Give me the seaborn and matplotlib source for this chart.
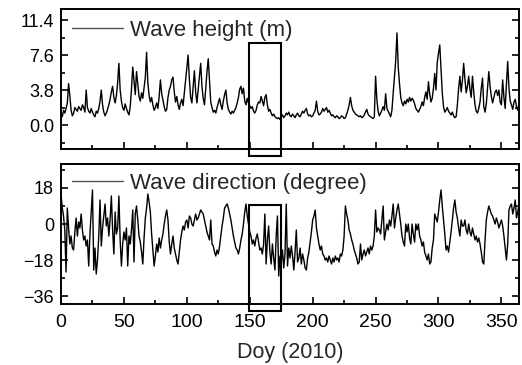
import numpy as np
import pandas as pd
import seaborn as sns
import matplotlib.pyplot as plt
from matplotlib.patches import Rectangle
from matplotlib.ticker import MultipleLocator, FormatStrFormatter

# daily wave height (m), day 0..365
height = [
    1.2, 0.9, 1.6, 1.3, 1.8, 2.4, 4.5, 3.2, 1.6, 1.0,
    1.3, 1.9, 1.7, 1.5, 2.0, 1.8, 1.6, 2.2, 1.9, 1.4,
    3.8, 1.9, 1.5, 1.3, 1.8, 1.4, 1.1, 0.9, 1.5, 1.3,
    1.8, 2.6, 3.8, 2.2, 1.4, 1.0, 1.3, 1.7, 2.2, 2.8,
    3.6, 4.2, 3.0, 2.4, 3.2, 4.6, 6.7, 3.8, 2.6, 1.9,
    1.6, 2.3, 1.8, 1.4, 1.1, 2.0, 3.9, 6.3, 4.8, 3.3,
    5.8, 4.4, 3.1, 2.6, 3.5, 2.9, 4.1, 5.2, 7.9, 4.6,
    3.2, 2.5, 3.0, 2.2, 1.6, 1.9, 2.4, 1.8, 3.1, 4.9,
    3.4, 2.7, 2.0, 1.5, 1.7, 3.0, 3.8, 4.2, 4.9, 5.2,
    3.6, 2.5, 3.1, 2.2, 1.7, 2.4, 2.8, 2.1, 3.5, 4.8,
    6.4, 7.6, 5.0, 3.0, 2.4, 4.1, 5.9, 3.6, 2.4, 3.8,
    5.3, 6.7, 4.2, 2.9, 2.2, 3.9, 5.8, 7.2, 4.9, 2.5,
    1.9, 1.4, 1.6, 1.3, 1.9, 2.4, 2.9, 2.2, 1.7, 2.6,
    3.3, 3.8, 2.4, 1.7, 1.4, 1.2, 1.5, 1.3, 1.6, 1.9,
    2.4, 3.0, 3.9, 4.2, 3.4, 4.0, 2.6, 2.2, 2.9, 2.4,
    2.1, 1.8, 2.0, 1.5, 1.3, 1.6, 2.2, 2.5, 2.4, 3.1,
    2.6, 2.1, 3.0, 3.3, 2.2, 1.5, 1.7, 1.3, 1.0, 1.2,
    0.9, 0.8, 0.7, 0.8, 0.6, 0.9, 1.1, 0.8, 1.0, 1.3,
    1.1, 1.4, 1.0, 0.9, 1.2, 1.0, 0.8, 1.1, 1.3, 1.0,
    0.9, 1.2, 1.5, 1.3, 1.6, 1.8, 1.2, 1.0, 1.1, 0.9,
    1.0, 1.3, 1.6, 2.6, 1.5, 1.1, 1.2, 1.4, 1.8, 1.5,
    1.7, 1.9, 1.4, 1.6, 1.3, 1.0, 1.1, 0.9, 0.8, 1.0,
    0.9, 0.7, 0.8, 1.0, 0.9, 0.7, 0.8, 1.2, 1.6, 2.2,
    3.0, 2.1, 1.6, 1.4, 1.2, 1.1, 1.0, 0.9, 1.0, 0.8,
    0.9, 1.1, 1.4, 1.7, 1.2, 1.0, 0.9, 0.8, 0.7, 0.9,
    5.3, 2.8, 1.5, 1.0, 1.3, 1.6, 2.0, 1.6, 3.4, 1.8,
    1.5, 1.2, 0.9, 1.6, 3.5, 5.2, 7.0, 10.0, 6.3, 4.5,
    3.0, 2.4, 2.1, 2.6, 2.3, 2.8, 2.5, 3.0, 2.6, 2.9,
    2.7, 2.3, 1.8, 1.6, 1.4, 1.7, 2.0, 2.5, 2.1, 3.0,
    3.6, 2.8, 4.7, 3.4, 2.5, 2.9, 4.0, 5.6, 3.8, 6.8,
    7.8, 8.7, 6.0, 3.5, 2.0, 1.4, 1.6, 1.9, 1.5, 1.3,
    1.1, 1.4, 1.0, 0.8, 0.9, 2.2, 4.0, 5.3, 3.6, 4.8,
    6.7, 5.0, 3.5, 4.2, 5.3, 3.9, 3.0, 5.3, 3.6, 2.2,
    1.5, 1.3, 1.8, 2.5, 4.0, 5.1, 2.0, 1.4, 2.3, 4.0,
    5.8, 4.2, 3.1, 2.4, 3.0, 3.6, 3.8, 3.2, 3.8, 2.5,
    2.2, 4.9, 3.0, 1.8, 4.5, 6.9, 4.0, 2.6, 2.2, 1.7,
    2.5, 2.8, 2.0, 1.6, 2.4, 2.8,
]

# daily wave direction (degree), day 0..365
direction = [
    15, 8, 4, -3, -24, 8, -2, -10, -6, -12,
    -13, -4, 3, -6, 1, -2, 5, -3, -8, -6,
    -11, -8, -21, -5, 6, 17, -23, -12, -25, -18,
    -6, 12, -11, -2, 4, 10, -1, 3, -6, 2,
    14, -3, -15, 6, -5, -2, 14, -8, -21, -10,
    -4, -8, -2, -21, -6, -10, -3, 7, -19, 5,
    9, 2, -6, -9, -14, -20, -7, 3, 8, 15,
    11, 6, -5, -13, -21, -16, -10, -14, -7, -12,
    -8, -5, 0, 4, 7, 2, -9, -15, -10, -6,
    -12, -15, -18, -20, -14, -8, -4, -1, -3, 1,
    2, -2, 4, 3, 0, -1, 2, 5, 2, 3,
    5, 7, 6, 5, 2, -1, -4, -6, -8, 2,
    -10, -11, -14, -16, -13, -15, -11, -6, -1, 3,
    8, 9, 10, 8, 5, 2, -2, -6, -9, -12,
    -13, -15, -12, -8, -5, 0, 6, 10, 4, 0,
    -4, -6, -10, -8, -11, -7, -5, -9, -13, -12,
    -15, -10, 5, -20, -8, -1, -14, -20, -10, -17,
    -23, -6, 4, -26, -16, -19, -13, -22, -15, 10,
    -21, -12, -17, -11, -16, -23, -14, -3, -19, -17,
    -12, -20, -15, -18, -22, -23, -17, -14, -9, -4,
    2, 4, 7, -2, -6, -10, -13, -11, -15, -16,
    -18, -17, -19, -16, -18, -20, -17, -19, -16, -18,
    -17, -19, -15, -16, -13, -6, 9, 5, 2, -3,
    -5, -8, -10, -13, -15, -17, -20, -19, -10, -18,
    -15, -13, -16, -14, -12, -15, -11, -13, -11, -6,
    7, -4, -2, -3, -5, 2, 9, -8, -4, 0,
    -3, 2, -1, 4, 10, -2, 3, 7, 10, 5,
    0, -6, -9, -11, 0, -4, 0, -7, -10, 0,
    -5, -9, 0, -3, 0, -6, -8, -11, -9, -14,
    -16, -18, -15, -20, -19, -12, -8, 5, 3, 1,
    6, 12, 17, 9, 2, -5, -13, -11, -14, -9,
    -4, 2, 8, 12, 6, 3, -2, -6, 2, -1,
    -1, 2, -3, -5, 0, -4, -6, -2, -5, -8,
    -6, -9, -7, -10, -14, -19, -20, -8, 2, 6,
    9, 7, 5, 4, 2, 0, 3, 1, -2, 0,
    2, -1, -6, -12, -18, -10, 7, 9, 10, 5,
    8, 12, 3, 6, 10, 14,
]

# highlighted window (doy)
window = (149, 175)

df_h = pd.DataFrame({"doy": np.arange(len(height)), "val": height})
df_d = pd.DataFrame({"doy": np.arange(len(direction)), "val": direction})

sns.set_style("ticks")
plt.rcParams["font.family"] = ["Liberation Sans", "DejaVu Sans"]

fig = plt.figure(figsize=(5.22, 3.65), dpi=100)
ax1 = fig.add_axes([0.1169, 0.5918, 0.8774, 0.3836])
ax2 = fig.add_axes([0.1169, 0.1671, 0.8774, 0.3836])

sns.lineplot(data=df_h, x="doy", y="val", ax=ax1, color="black", lw=1.0,
             label="Wave height (m)")
sns.lineplot(data=df_d, x="doy", y="val", ax=ax2, color="black", lw=1.0,
             label="Wave direction (degree)")

ax1.set_ylim(-2.6, 12.6)
ax1.yaxis.set_major_locator(MultipleLocator(3.8))
ax1.yaxis.set_minor_locator(MultipleLocator(1.9))
ax1.yaxis.set_major_formatter(FormatStrFormatter("%.1f"))
ax2.set_ylim(-40, 30)
ax2.yaxis.set_major_locator(MultipleLocator(18))
ax2.yaxis.set_minor_locator(MultipleLocator(9))

for ax, ly in ((ax1, 1.0), (ax2, 1.015)):
    ax.set_xlim(0, 364)
    ax.xaxis.set_major_locator(MultipleLocator(50))
    ax.xaxis.set_minor_locator(MultipleLocator(25))
    ax.set_xlabel("")
    ax.set_ylabel("")
    ax.tick_params(which="both", direction="in", left=True, right=True,
                   bottom=True, top=False, width=1.2, colors="black")
    ax.tick_params(which="major", length=5)
    ax.tick_params(which="minor", length=3)
    ax.tick_params(axis="y", labelsize=13, pad=5)
    ax.tick_params(axis="x", labelsize=14, pad=7)
    for s in ax.spines.values():
        s.set_linewidth(1.4)
        s.set_color("black")
    leg = ax.legend(loc="upper left", frameon=False, fontsize=16,
                    handlelength=2.3, handletextpad=0.32,
                    bbox_to_anchor=(0.0, ly), borderaxespad=0.1)
    for line in leg.get_lines():
        line.set_color("#555555")
        line.set_linewidth(1.0)

ax1.tick_params(axis="x", labelbottom=False)
ax2.set_xlabel("Doy (2010)", fontsize=15.5, labelpad=8)

ax1.add_patch(Rectangle((window[0], -3.4), window[1] - window[0], 12.3,
                        fill=False, ec="black", lw=1.5, clip_on=False, zorder=5))
ax2.add_patch(Rectangle((window[0], -43.5), window[1] - window[0], 53,
                        fill=False, ec="black", lw=1.5, clip_on=False, zorder=5))

fig.savefig("out.png", dpi=100)
